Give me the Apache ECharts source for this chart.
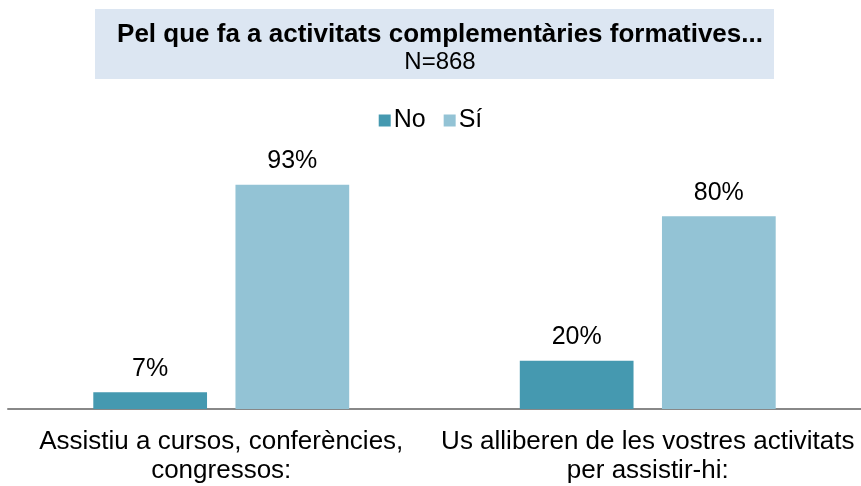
<!DOCTYPE html>
<html>
<head>
<meta charset="utf-8">
<script src="https://cdn.jsdelivr.net/npm/echarts@6/dist/echarts.min.js"></script>
<style>
  html, body { margin: 0; padding: 0; background: #ffffff; }
  #chart { width: 861px; height: 486px; }
</style>
</head>
<body>
<div id="chart"></div>
<script>
// Survey results: complementary training activities
const categories = [
  'Assistiu a cursos, conferències,\ncongressos:',
  'Us alliberen de les vostres activitats\nper assistir-hi:'
];
const seriesNames = ['No', 'Sí'];
const valuesNo = [7, 20];
const valuesYes = [93, 80];
const titleText = 'Pel que fa a activitats complementàries formatives...';
const subtitleText = 'N=868';

const FONT = '"Liberation Sans", Arial, sans-serif';
const COLOR_NO = '#4599b0';
const COLOR_YES = '#93c3d5';

const chart = echarts.init(document.getElementById('chart'), null, { renderer: 'canvas' });

const labelStyle = {
  show: true,
  position: 'top',
  distance: 11,
  formatter: p => p.value + '%',
  fontFamily: FONT,
  fontSize: 25,
  color: '#000000'
};

chart.setOption({
  animation: false,
  backgroundColor: '#ffffff',
  graphic: [{
    type: 'rect',
    left: 95,
    top: 9,
    shape: { width: 679, height: 70 },
    style: { fill: '#dce6f2' },
    z: -1
  }],
  title: {
    text: titleText,
    subtext: subtitleText,
    left: 435,
    textAlign: 'center',
    top: 17,
    padding: [4, 5, 4, 5],
    itemGap: 0,
    textStyle: { fontFamily: FONT, fontSize: 26, fontWeight: 'bold', color: '#000000', lineHeight: 28 },
    subtextStyle: { fontFamily: FONT, fontSize: 24, color: '#000000', lineHeight: 26 }
  },
  legend: {
    data: seriesNames,
    top: 103,
    left: 'center',
    itemWidth: 12,
    itemHeight: 12,
    itemGap: 18,
    icon: 'rect',
    textStyle: { fontFamily: FONT, fontSize: 25, color: '#000000', padding: [0, 0, 0, -2] }
  },
  grid: { left: 8, right: 0, top: 168, bottom: 77, containLabel: false },
  xAxis: {
    type: 'category',
    data: categories,
    axisLine: { show: true, lineStyle: { color: '#888888', width: 2 } },
    axisTick: { show: false },
    axisLabel: {
      fontFamily: FONT,
      fontSize: 26,
      color: '#000000',
      lineHeight: 29,
      margin: 18,
      interval: 0
    }
  },
  yAxis: {
    type: 'value',
    min: 0,
    max: 100,
    show: false,
    splitLine: { show: false }
  },
  series: [
    {
      name: seriesNames[0],
      type: 'bar',
      data: valuesNo,
      barGap: '25%',
      barCategoryGap: '40%',
      itemStyle: { color: COLOR_NO },
      label: labelStyle
    },
    {
      name: seriesNames[1],
      type: 'bar',
      data: valuesYes,
      itemStyle: { color: COLOR_YES },
      label: labelStyle
    }
  ]
});
</script>
</body>
</html>
